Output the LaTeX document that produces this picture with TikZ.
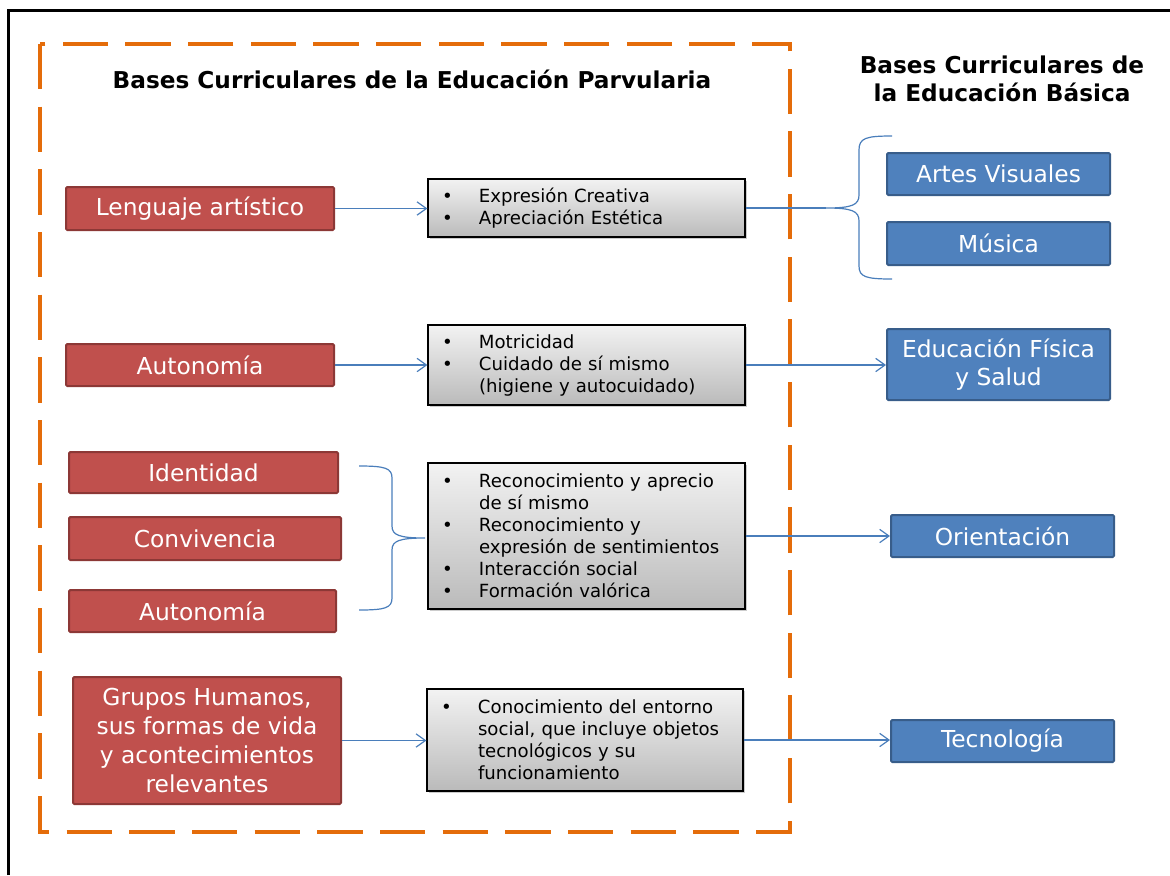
\documentclass[tikz,border=0pt]{standalone}
\usepackage{fontspec}
\setmainfont{DejaVu Sans}
\usetikzlibrary{arrows.meta,shadows}
\definecolor{redfill}{HTML}{C0504D}
\definecolor{redline}{HTML}{8C3836}
\definecolor{bluefill}{HTML}{4F81BD}
\definecolor{blueline}{HTML}{385D8A}
\definecolor{conn}{HTML}{4A7EBB}
\definecolor{orangeline}{HTML}{E46C0A}
\newcommand\bul{\makebox[27.75pt][l]{•}}
\newcommand\ind{\hspace*{27.75pt}}
\tikzset{
  redbox/.style={draw=redline, line width=1.5pt, fill=redfill, text=white, rounded corners=1pt,
    font=\fontsize{17.5}{21}\selectfont, align=center, inner sep=0pt},
  bluebox/.style={draw=blueline, line width=1.5pt, fill=bluefill, text=white, rounded corners=1pt,
    font=\fontsize{17.5}{21}\selectfont, align=center, inner sep=0pt},
  graybox/.style={draw=black, line width=0.9pt, top color=white!95!black, bottom color=black!27,
    drop shadow={shadow xshift=1.5pt, shadow yshift=-1.5pt, opacity=0.4},
    font=\fontsize{13.6}{16.5}\selectfont, align=left, inner xsep=10.5pt, inner ysep=0pt},
  title/.style={font=\fontsize{17.4}{21}\selectfont\bfseries, align=center},
  conline/.style={draw=conn, line width=0.9pt},
  arr/.style={conline, -{Straight Barb[length=7pt,width=10pt]}},
}
\begin{document}
\begin{tikzpicture}[x=0.75pt,y=-0.75pt]
\useasboundingbox (0,0) rectangle (1170,875);
% outer frame
\draw[line width=2.25pt] (8,875) -- (8,10) -- (1172,10);
% dashed frame
\draw[orangeline, line width=3pt, dash pattern=on 34pt off 13pt]
  (40,44) -- (40,832) -- (790,832) -- (790,44) -- cycle;
% titles
\node[title] (t1) at (412,79) {Bases Curriculares de la Educación Parvularia};
\node[title] (t2) at (1002,79) {Bases Curriculares de\\la Educación Básica};
% red boxes
\node[redbox, minimum width=201pt, minimum height=32.25pt] (r1) at (200,208.5) {Lenguaje artístico};
\node[redbox, minimum width=201pt, minimum height=31.5pt] (r2) at (200,365) {Autonomía};
\node[redbox, minimum width=201.75pt, minimum height=30.75pt] (r3) at (203.5,472.5) {Identidad};
\node[redbox, minimum width=204pt, minimum height=32.25pt] (r4) at (205,538.5) {Convivencia};
\node[redbox, minimum width=200.25pt, minimum height=31.5pt] (r5) at (202.5,611) {Autonomía};
\node[redbox, minimum width=201pt, minimum height=95.25pt, font=\fontsize{17.5}{21.75}\selectfont] (r6) at (207,740.5)
  {Grupos Humanos,\\sus formas de vida\\y acontecimientos\\relevantes};
% gray boxes
\node[graybox, text width=216.75pt, minimum height=43.5pt] (g1) at (586.5,208)
  {\bul Expresión Creativa\\\bul Apreciación Estética};
\node[graybox, text width=216.75pt, minimum height=60pt] (g2) at (586.5,365)
  {\bul Motricidad\\\bul Cuidado de sí mismo\\\ind (higiene y autocuidado)};
\node[graybox, text width=216.75pt, minimum height=109.5pt] (g3) at (586.5,536)
  {\bul Reconocimiento y aprecio\\\ind de sí mismo\\\bul Reconocimiento y\\\ind expresión de sentimientos\\\bul Interacción social\\\bul Formación valórica};
\node[graybox, text width=216pt, minimum height=76.5pt] (g4) at (585,740)
  {\bul Conocimiento del entorno\\\ind social, que incluye objetos\\\ind tecnológicos y su\\\ind funcionamiento};
% blue boxes
\node[bluebox, minimum width=167.25pt, minimum height=31.5pt] (b1) at (998.5,174) {Artes Visuales};
\node[bluebox, minimum width=167.25pt, minimum height=32.25pt] (b2) at (998.5,243.5) {Música};
\node[bluebox, minimum width=167.25pt, minimum height=53.25pt, font=\fontsize{17.5}{21}\selectfont] (b3) at (998.5,364.5) {Educación Física\\y Salud};
\node[bluebox, minimum width=167.25pt, minimum height=31.5pt] (b4) at (1002.5,536) {Orientación};
\node[bluebox, minimum width=167.25pt, minimum height=31.5pt] (b5) at (1002.5,741) {Tecnología};
% brace coordinates
\coordinate (bt1) at (826,208);
\coordinate (bt2) at (425,538);
% connectors
\draw[arr] (r1.east) -- (g1.west |- r1.east);
\draw[arr] (r2.east) -- (g2.west |- r2.east);
\draw[arr] (r6.east) -- (g4.west |- r6.east);
\draw[arr] (g2.east) -- (b3.west |- g2.east);
\draw[arr] (g3.east |- b4.west) -- (b4.west);
\draw[arr] (g4.east) -- (b5.west |- g4.east);
\draw[conline] (g1.east) -- (bt1);
% brace right
\draw[conline] (892,136) .. controls (866,136) and (859,138) .. (859,150) -- (859,195)
  .. controls (859,205) and (852,208) .. (bt1)
  .. controls (852,208) and (859,211) .. (859,221) -- (859,266)
  .. controls (859,277) and (866,279) .. (892,279);
% brace middle
\draw[conline] (359,466) .. controls (385,466) and (392,468) .. (392,478) -- (392,526)
  .. controls (392,535) and (399,538) .. (bt2)
  .. controls (399,538) and (392,541) .. (392,550) -- (392,598)
  .. controls (392,608) and (385,610) .. (359,610);
\end{tikzpicture}
\end{document}
